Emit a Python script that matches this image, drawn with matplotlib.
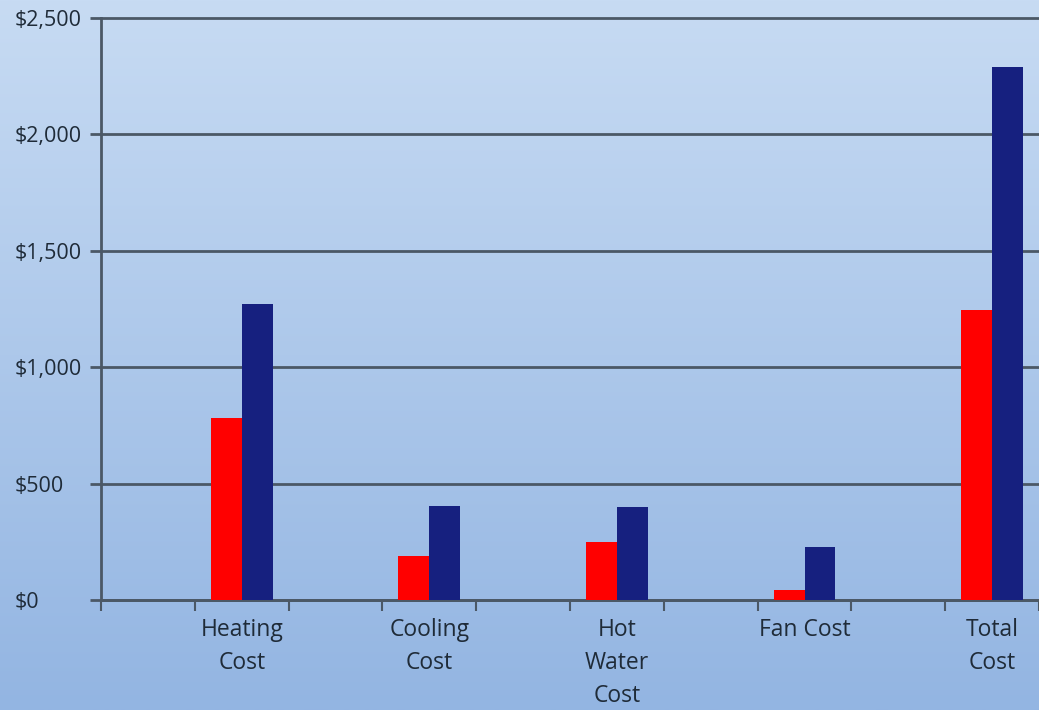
import matplotlib
matplotlib.use("Agg")
import matplotlib.pyplot as plt
import numpy as np

# categories sit in every other slot, the slots between them are empty
categories = ["Heating\nCost", "Cooling\nCost", "Hot\nWater\nCost", "Fan Cost", "Total\nCost"]
slots = [1, 3, 5, 7, 9]
series_red = [782, 189, 249, 43, 1246]
series_blue = [1271, 404, 400, 228, 2290]
yticks = [0, 500, 1000, 1500, 2000, 2500]

plt.rcParams['font.family'] = ['Open Sans', 'DejaVu Sans']

fig = plt.figure(figsize=(10.39, 7.10), dpi=100)

# gradient background over the whole figure
bg = fig.add_axes([0, 0, 1, 1], zorder=0)
grad = np.linspace(0, 1, 256).reshape(-1, 1)
top = np.array([0xc7, 0xdb, 0xf3]) / 255
bot = np.array([0x93, 0xb5, 0xe2]) / 255
img = top + (bot - top) * grad[:, :, None]
bg.imshow(img, aspect='auto', extent=[0, 1, 0, 1])
bg.axis('off')

left_px = 101
ax = fig.add_axes([left_px / 1039, 1 - 600 / 710, 1 - left_px / 1039, (600 - 18) / 710], zorder=1)
ax.patch.set_alpha(0)

x = np.array(slots)
w = 0.33
ax.bar(x - w / 2, series_red, width=w, color='#ff0000', zorder=3)
ax.bar(x + w / 2, series_blue, width=w, color='#16207f', zorder=3)

slot_px = 94.7
ax.set_xlim(-0.5, (1039 - left_px) / slot_px - 0.5)
ax.set_ylim(0, 2500)

ax.set_yticks(yticks)
ax.set_yticklabels(['${:,}'.format(v) for v in yticks], ha='left')
ax.yaxis.grid(True, color='#4b5866', linewidth=2, zorder=1)
for gl in ax.get_ygridlines():
    gl.set_clip_on(False)

ax.set_xticks(np.arange(-0.5, 10, 1))
ax.set_xticklabels([])
ax.set_xticks(x, minor=True)
ax.set_xticklabels(categories, minor=True, fontsize=16.5, color='#1f2b38', linespacing=1.5)
ax.tick_params(axis='x', which='minor', length=0, pad=13)
ax.tick_params(axis='x', which='major', direction='out', length=8, width=1.5, color='#4b5866')
ax.tick_params(axis='y', direction='out', length=8, width=2, color='#4b5866',
               labelsize=15.5, labelcolor='#1f2b38', pad=(left_px - 18) * 0.72 - 8 * 0.72)

for s in ['top', 'right']:
    ax.spines[s].set_visible(False)
for s in ['left', 'bottom']:
    ax.spines[s].set_color('#4b5866')
    ax.spines[s].set_linewidth(2)

plt.savefig('out.png', dpi=100)
